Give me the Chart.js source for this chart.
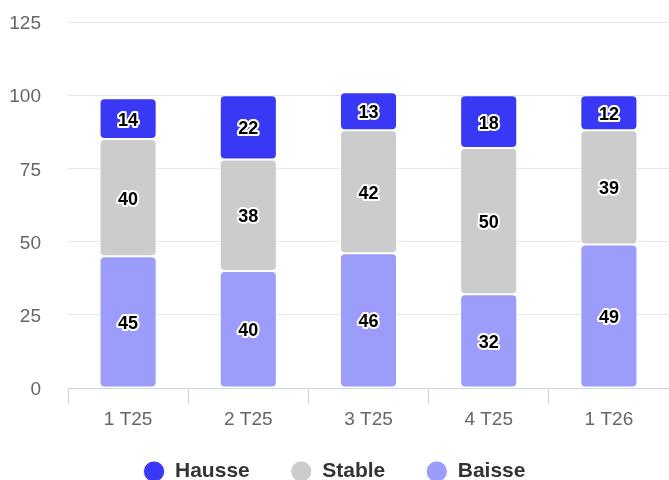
<!DOCTYPE html>
<html>
<head>
<meta charset="utf-8">
<script src="https://cdn.jsdelivr.net/npm/chart.js@4/dist/chart.umd.min.js"></script>
<style>
html,body{margin:0;padding:0;background:#fff;}
#wrap{width:669px;height:480px;position:relative;}
</style>
</head>
<body>
<div id="wrap"><canvas id="c" width="669" height="480"></canvas></div>
<script>
const categories = ["1 T25", "2 T25", "3 T25", "4 T25", "1 T26"];
const baisse = [45, 40, 46, 32, 49];
const stable = [40, 38, 42, 50, 39];
const hausse = [14, 22, 13, 18, 12];
const yTicks = [0, 25, 50, 75, 100, 125];

const FONT = "'Liberation Sans', Arial, Helvetica, sans-serif";
const radius = {topLeft: 5, topRight: 5, bottomLeft: 5, bottomRight: 5};
const X_AXIS_HEIGHT = 44;
const LEGEND_HEIGHT = 480 - 388 - X_AXIS_HEIGHT;
const LEGEND_TOP = 420;

const labelPlugin = {
  id: 'segLabels',
  afterDatasetsDraw(chart) {
    const ctx = chart.ctx;
    ctx.save();
    ctx.font = "bold 18px " + FONT;
    ctx.textAlign = 'center';
    ctx.textBaseline = 'middle';
    ctx.lineJoin = 'round';
    chart.data.datasets.forEach((ds, i) => {
      const meta = chart.getDatasetMeta(i);
      if (meta.hidden) return;
      meta.data.forEach((bar, j) => {
        const v = ds.data[j];
        const p = bar.getCenterPoint();
        const t = String(v);
        ctx.lineWidth = 4;
        ctx.strokeStyle = '#ffffff';
        ctx.strokeText(t, p.x, p.y + 2);
        ctx.fillStyle = '#000000';
        ctx.fillText(t, p.x, p.y + 2);
      });
    });
    ctx.restore();
  }
};

const legendFitPlugin = {
  id: 'legendFit',
  beforeUpdate(chart) {
    const lg = chart.legend;
    if (lg && !lg._patched) {
      const orig = lg.fit.bind(lg);
      lg.fit = function () { orig(); this.height = LEGEND_HEIGHT; };
      lg._patched = true;
    }
  },
  afterLayout(chart) {
    const lg = chart.legend;
    if (lg) {
      lg.top = LEGEND_TOP;
      lg.bottom = 480;
      lg.height = 480 - LEGEND_TOP;
    }
  }
};

function ds(label, data, color) {
  return {
    label: label,
    data: data,
    backgroundColor: color,
    borderColor: '#ffffff',
    borderWidth: 1,
    borderSkipped: false,
    borderRadius: radius,
    categoryPercentage: 1.0,
    barPercentage: 0.475
  };
}

const chart = new Chart(document.getElementById('c'), {
  type: 'bar',
  data: {
    labels: categories,
    datasets: [
      ds('Baisse', baisse, '#9c9cfa'),
      ds('Stable', stable, '#cccccc'),
      ds('Hausse', hausse, '#3939f5')
    ]
  },
  options: {
    responsive: false,
    animation: false,
    devicePixelRatio: 1,
    layout: { padding: { top: 22, right: 0, left: 0, bottom: 0 } },
    plugins: {
      legend: {
        position: 'bottom',
        reverse: true,
        labels: {
          usePointStyle: true,
          pointStyle: 'circle',
          boxWidth: 21,
          boxHeight: 15,
          padding: 41,
          color: '#333333',
          font: { family: FONT, size: 21, weight: 'bold' }
        }
      },
      tooltip: { enabled: false }
    },
    scales: {
      x: {
        stacked: true,
        offset: true,
        afterFit(scale) { scale.height = X_AXIS_HEIGHT; },
        grid: {
          display: true,
          offset: true,
          drawOnChartArea: false,
          drawTicks: true,
          tickLength: 16,
          color: '#ccd6eb',
          lineWidth: 1
        },
        border: { display: true, color: '#ccd6eb', width: 1 },
        ticks: {
          color: '#666666',
          padding: 4,
          font: { family: FONT, size: 19 }
        }
      },
      y: {
        stacked: true,
        min: 0,
        max: 125,
        afterFit(scale) { scale.width = 68; scale.paddingTop = 0; scale.paddingBottom = 0; },
        afterBuildTicks(scale) { scale.ticks = yTicks.map(v => ({ value: v })); },
        grid: {
          color: '#e6e6e6',
          lineWidth: 1,
          drawTicks: false
        },
        border: { display: false },
        ticks: {
          color: '#666666',
          padding: 27,
          labelOffset: 2,
          font: { family: FONT, size: 19 }
        }
      }
    }
  },
  plugins: [labelPlugin, legendFitPlugin]
});
chart.update();
</script>
</body>
</html>
